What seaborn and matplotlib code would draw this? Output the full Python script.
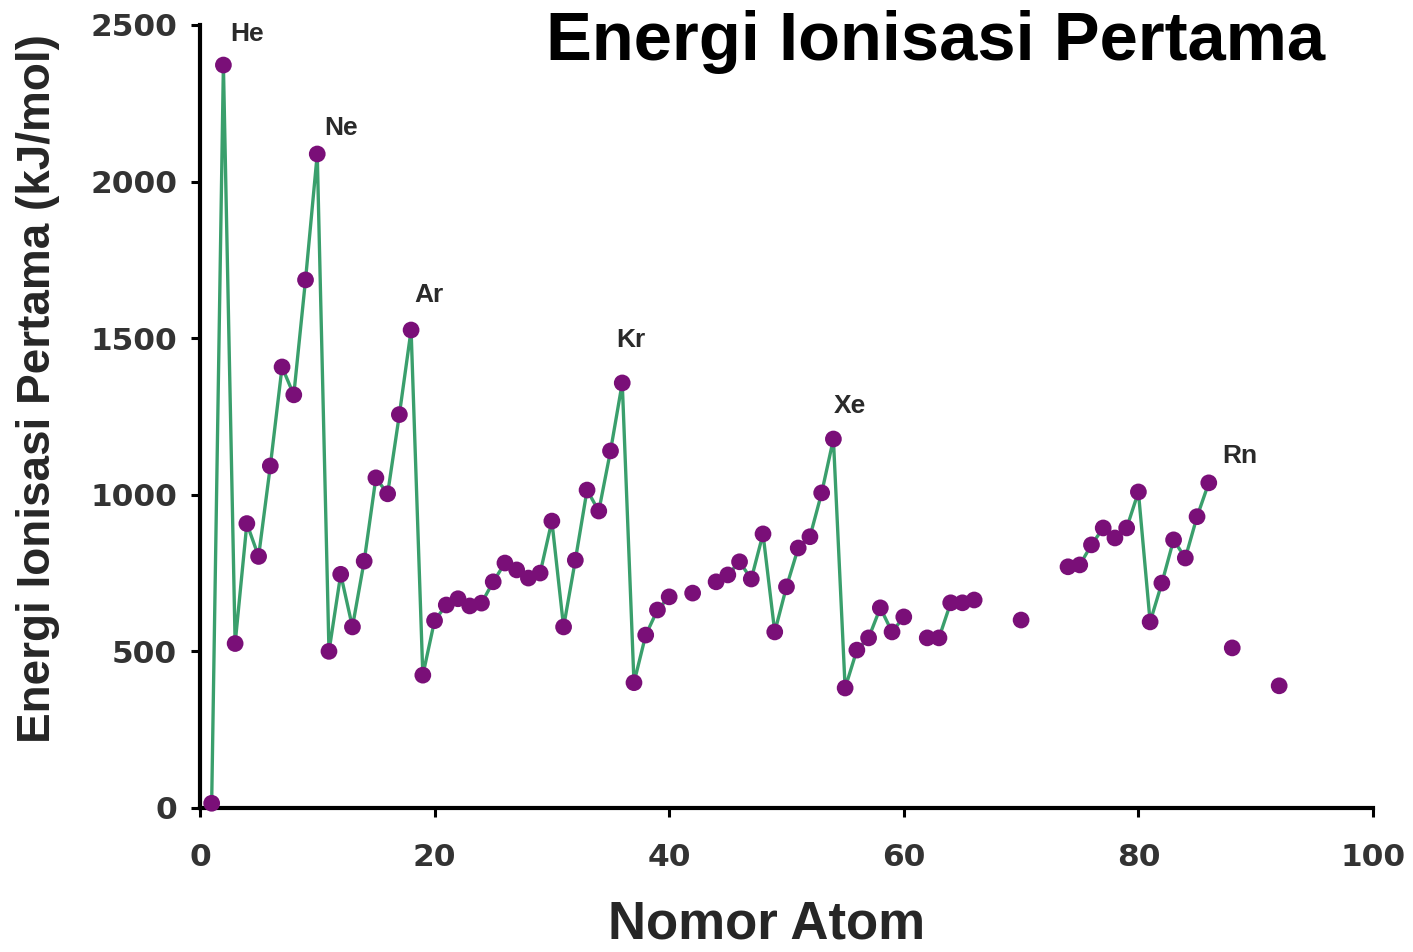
"""
Grafik energi ionisasi pertama vs nomor atom
"""

import pandas as pd
import matplotlib
matplotlib.use("Agg")
import matplotlib.pyplot as plt
import seaborn as sns

# nomor atom yang ada datanya (ada yang bolong: 41, 43, 61, 67-69, 71-73, 87, 89-91)
ATOM_Z = [1, 2, 3, 4, 5, 6, 7, 8, 9, 10,
          11, 12, 13, 14, 15, 16, 17, 18, 19, 20,
          21, 22, 23, 24, 25, 26, 27, 28, 29, 30,
          31, 32, 33, 34, 35, 36, 37, 38, 39, 40,
          42, 44, 45, 46, 47, 48, 49, 50, 51, 52,
          53, 54, 55, 56, 57, 58, 59, 60, 62, 63,
          64, 65, 66, 70, 74, 75, 76, 77, 78, 79,
          80, 81, 82, 83, 84, 85, 86, 88, 92]
IE = [15, 2372, 525, 908, 803, 1092, 1408, 1319, 1686, 2088,
      500, 746, 578, 788, 1054, 1003, 1256, 1526, 424, 598,
      648, 668, 645, 654, 722, 782, 760, 734, 750, 916,
      578, 791, 1015, 948, 1140, 1357, 400, 552, 632, 674,
      686, 722, 744, 786, 731, 875, 562, 706, 830, 866,
      1006, 1178, 383, 504, 543, 639, 562, 610, 543, 543,
      655, 655, 664, 600, 770, 776, 840, 894, 862, 894,
      1009, 594, 718, 856, 798, 930, 1038, 511, 390]

NOBLE_SYM = ["He", "Ne", "Ar", "Kr", "Xe", "Rn"]
NOBLE_Z   = [2, 10, 18, 36, 54, 86]
NOBLE_OFF = [(17, 22), (17, 19), (13, 25), (6, 31), (12, 24), (22, 19)]   # offset label (pt)

X_TICKS = [0, 20, 40, 60, 80, 100]
Y_TICKS = [0, 500, 1000, 1500, 2000, 2500]

PURPLE = "#7a0f78"
GREEN  = "#3a9f6c"

sns.set_style("ticks")
plt.rcParams["font.family"] = ["Liberation Sans", "DejaVu Sans"]

df = pd.DataFrame({"z": ATOM_Z, "ie": IE})
# garis diputus kalau nomor atom tidak berurutan
df["seg"] = (df["z"].diff() != 1).cumsum()

fig = plt.figure(figsize=(14.13, 9.52), dpi=100)
ax = fig.add_axes([0.1415, 0.1513, 0.8302, 0.8225])

sns.lineplot(data=df, x="z", y="ie", units="seg", estimator=None,
             color=GREEN, linewidth=2.4, ax=ax, legend=False, zorder=2)
sns.scatterplot(data=df, x="z", y="ie", color=PURPLE, s=145,
                edgecolor="none", ax=ax, zorder=3, clip_on=False, legend=False)

for sym, z, off in zip(NOBLE_SYM, NOBLE_Z, NOBLE_OFF):
    y = df.loc[df["z"] == z, "ie"].iloc[0]
    ax.annotate(sym, (z, y), textcoords="offset points", xytext=off,
                ha="center", va="center", fontsize=19, fontweight="bold",
                color="#2a2a2a")

ax.set_xlim(0, 100)
ax.set_ylim(0, 2500)
ax.set_xticks(X_TICKS)
ax.set_yticks(Y_TICKS)

for s in ["top", "right"]:
    ax.spines[s].set_visible(False)
for s in ["left", "bottom"]:
    ax.spines[s].set_linewidth(3.0)
    ax.spines[s].set_color("black")

ax.tick_params(axis="both", direction="out", length=6.5, width=2.2, color="black")
ax.tick_params(axis="x", pad=19)
ax.tick_params(axis="y", pad=10)
for lab in ax.get_xticklabels() + ax.get_yticklabels():
    lab.set_family("DejaVu Sans")
    lab.set_fontweight("bold")
    lab.set_fontsize(22.5)
    lab.set_color("#333333")

ax.set_xlabel("Nomor Atom", fontsize=38, fontweight="bold", va="center")
ax.xaxis.set_label_coords(0.483, -0.149)
ax.set_ylabel("Energi Ionisasi Pertama (kJ/mol)", fontsize=33, fontweight="bold", va="center")
ax.yaxis.set_label_coords(-0.138, 0.535)

fig.text(0.662, 0.937, "Energi Ionisasi Pertama", ha="center", va="baseline",
         fontsize=49.5, fontweight="bold", color="black")

plt.savefig("out.png", dpi=100)
plt.close()
